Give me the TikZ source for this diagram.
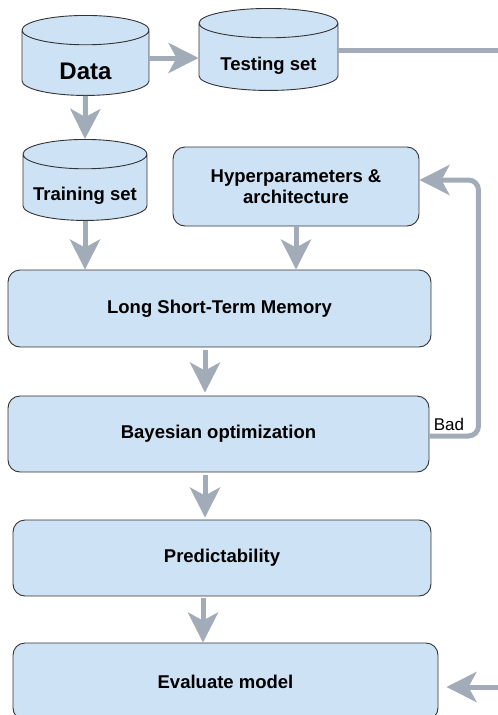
\documentclass[tikz,border=0pt]{standalone}
\usepackage{fontspec}
\setmainfont{Liberation Sans}
\usepackage{xcolor}
\usepackage{tikz}
\usetikzlibrary{shapes.geometric,arrows.meta}

\definecolor{boxfill}{HTML}{CEE2F5}
\definecolor{boxline}{HTML}{333333}
\definecolor{flowgray}{HTML}{A1ACB8}

\begin{document}
\begin{tikzpicture}[x=1pt, y=-1pt,
    box/.style={draw=boxline, line width=0.9pt, fill=boxfill, rounded corners=12pt,
        align=center, font=\fontsize{18.5}{21.5}\selectfont\bfseries},
    db/.style={cylinder, shape border rotate=90, aspect=4.4, draw=boxline,
        line width=0.9pt, fill=boxfill, anchor=top},
    dbtext/.style={font=\fontsize{18.5}{21.5}\selectfont\bfseries},
    flow/.style={draw=flowgray, line width=5pt,
        -{Stealth[length=30pt, width=30pt, inset=8pt]}},
    ]
        \useasboundingbox (0,0) rectangle (498,715);

        \node [db, minimum width=127pt, minimum height=80pt] (data) at (85.5,15) {};
        \node [dbtext, font=\fontsize{24}{28}\selectfont\bfseries] (datatext) at ([yshift=25pt]data.bottom) {Data};
        \node [db, minimum width=139pt, minimum height=82pt] (testing) at (268.5,8) {};
        \node [dbtext] (testingtext) at ([yshift=25pt]testing.bottom) {Testing set};
        \node [db, minimum width=124pt, minimum height=81pt] (training) at (85,139) {};
        \node [dbtext] (trainingtext) at ([yshift=25pt]training.bottom) {Training set};

        \node [box, minimum width=246pt, minimum height=79pt] (hyper) at (296,186.5) {Hyperparameters \&\\architecture};
        \node [box, minimum width=423pt, minimum height=77pt] (lstm) at (219.5,308.5) {Long Short-Term Memory};
        \node [box, minimum width=421pt, minimum height=76pt] (bayes) at (218.5,434) {Bayesian optimization};
        \node [box, minimum width=418pt, minimum height=76pt] (predict) at (222,558) {Predictability};
        \node [box, minimum width=425pt, minimum height=77pt] (eval) at (225.5,681.5) {Evaluate model};

        \coordinate (dataside) at ([yshift=-43pt]data.top);
        \coordinate (testside) at ([yshift=-42pt]testing.top);
        \coordinate (edge) at (530,0);

        \draw [flow] (dataside -| data.east) -- (dataside -| testing.west);
        \draw [flow] (data.bottom) -- (training.top);
        \draw [flow] (training.bottom) -- (training.bottom |- lstm.north);
        \draw [flow] (hyper.south) -- (hyper.south |- lstm.north);
        \draw [flow, shorten <=3pt, shorten >=3pt] ([xshift=-14.5pt]lstm.south) -- ([xshift=-13.5pt]bayes.north);
        \draw [flow, shorten <=3pt, shorten >=2pt] ([xshift=-13.5pt]bayes.south) -- ([xshift=-17pt]predict.north);
        \draw [flow, shorten <=2pt] ([xshift=-19pt]predict.south) -- ([xshift=-22.5pt]eval.north);
        \draw [flow, rounded corners=10pt] ([yshift=-2pt]bayes.east) -- node [above, font=\fontsize{17}{20}\selectfont, xshift=-5pt] (bad) {Bad} ++(49,0) |- ([yshift=6.5pt]hyper.east);
        \draw [flow, shorten >=8pt] (testside -| testing.east) -- (testside -| edge) |- ([yshift=-5.5pt]eval.east);

\end{tikzpicture}
\end{document}
